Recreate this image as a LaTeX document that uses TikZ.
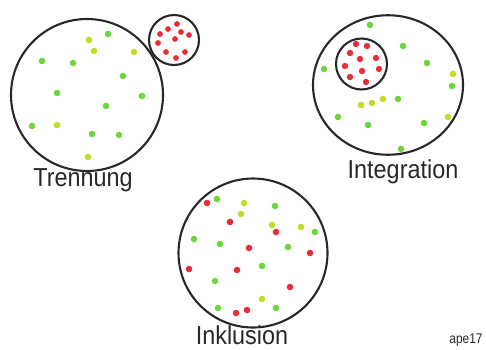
\documentclass[tikz,border=0pt]{standalone}
\usepackage{fontspec}
\setmainfont{Liberation Sans}
\usepackage{xcolor}
\usepackage{tikz}
\usetikzlibrary{positioning}
\definecolor{dotgreen}{RGB}{110, 214, 58}
\definecolor{dotlime}{RGB}{190, 222, 40}
\definecolor{dotred}{RGB}{232, 44, 56}
\definecolor{inkgray}{RGB}{40, 40, 40}

\begin{document}
\begin{tikzpicture}[x=1pt, y=-1pt,
    ring/.style={draw=inkgray, line width=2.1pt, circle, inner sep=0pt},
    caption/.style={anchor=base, text=inkgray, font=\fontsize{26}{26}\selectfont, xscale=0.9},
    dotg/.style={fill=dotgreen},
    dotl/.style={fill=dotlime},
    dotr/.style={fill=dotred}]
        \useasboundingbox (0,0) rectangle (486,349);

        % Trennung
        \node[ring, minimum size=152pt] (trennung) at (87,95) {};
        \node[ring, minimum size=50pt] (apart) at (174,40) {};
        \foreach \x/\y in {108/34, 42/61, 73/63, 123/76, 57/93, 142/96, 106/106, 32/126, 92/134, 119/135}
            \fill[dotg] (\x,\y) circle (3.3pt);
        \foreach \x/\y in {89/40, 94/51, 134/52, 57/125, 88/157}
            \fill[dotl] (\x,\y) circle (3.3pt);
        \foreach \x/\y in {177/24, 168/29, 160/34, 181/32, 189/35, 175/39, 158/43, 166/52, 185/52, 176/58}
            \fill[dotr] (\x,\y) circle (2.9pt);
        \node[caption] (lbltrennung) at (83,186) {Trennung};

        % Integration
        \node[ring, minimum size=150pt, yscale=0.93] (integration) at (388,85) {};
        \node[ring, minimum size=51pt] (inner) at (361.5,64) {};
        \foreach \x/\y in {370/25, 403/46, 324/69, 427/63, 452/86, 398/99, 338/117, 368/125, 424/123, 401/149}
            \fill[dotg] (\x,\y) circle (3.3pt);
        \foreach \x/\y in {453/74, 361/105, 372/103, 383/99, 448/117}
            \fill[dotl] (\x,\y) circle (3.3pt);
        \foreach \x/\y in {356/44, 367/46, 350/53, 360/59, 376/58, 345/66, 362/71, 379/69, 350/77, 366/82}
            \fill[dotr] (\x,\y) circle (3.2pt);
        \node[caption] (lblintegration) at (403,178) {Integration};

        % Inklusion
        \node[ring, minimum size=149pt] (inklusion) at (253,253) {};
        \foreach \x/\y in {217/199, 275/206, 315/232, 194/239, 220/244, 288/247, 262/266, 215/281, 218/308, 276/308}
            \fill[dotg] (\x,\y) circle (3.3pt);
        \foreach \x/\y in {244/203, 241/214, 272/225, 301/227, 262/299}
            \fill[dotl] (\x,\y) circle (3.3pt);
        \foreach \x/\y in {207/203, 230/222, 276/232, 249/248, 310/253, 189/269, 237/270, 290/287, 236/313, 247/310}
            \fill[dotr] (\x,\y) circle (3.3pt);
        \node[caption] (lblinklusion) at (242,344) {Inklusion};

        % Signature
        \node[anchor=base, text=inkgray, font=\fontsize{14}{14}\selectfont, xscale=0.85] (sign) at (466,343) {ape17};
    \end{tikzpicture}
\end{document}
